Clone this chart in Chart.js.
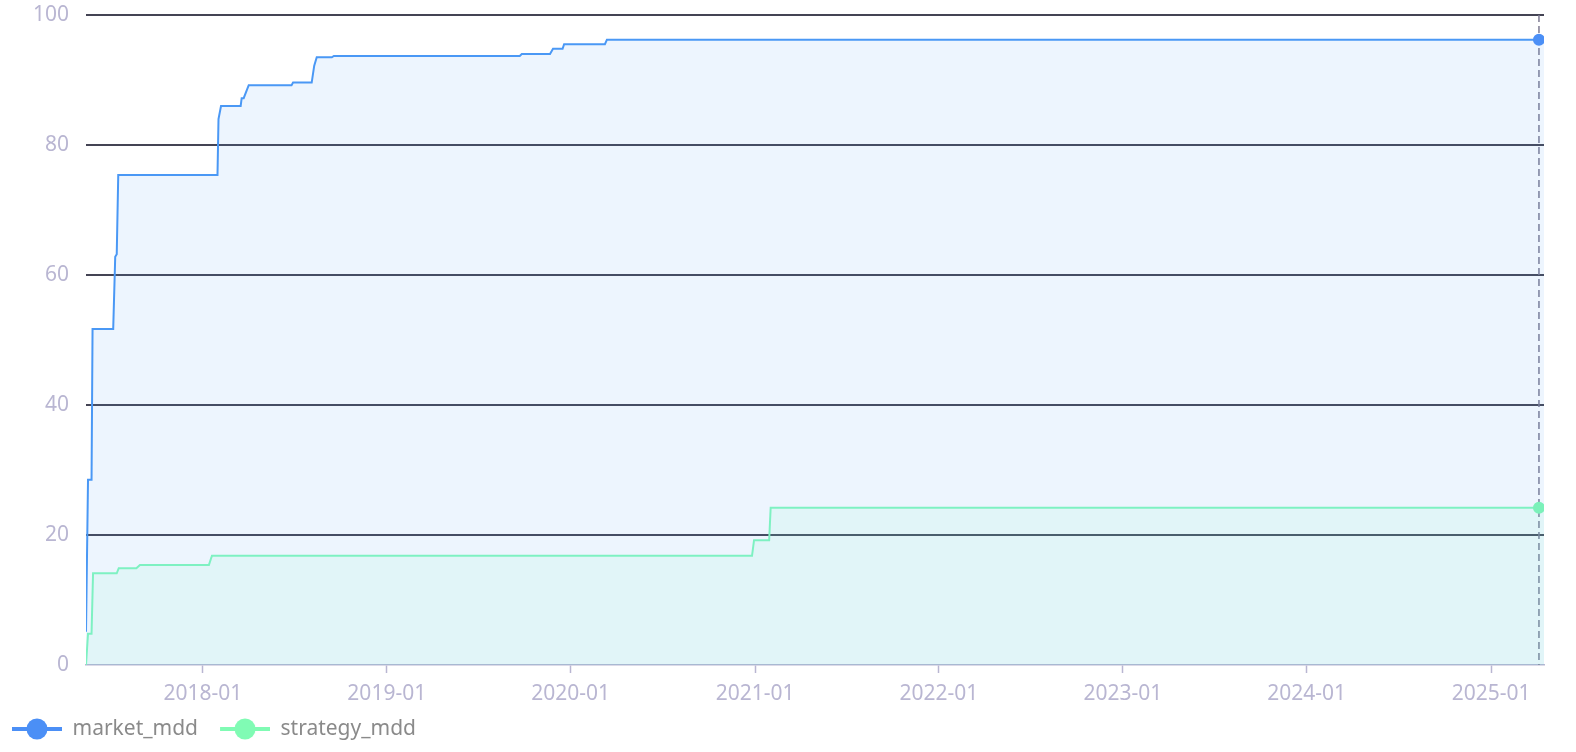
<!DOCTYPE html>
<html>
<head>
<meta charset="utf-8">
<script src="https://cdn.jsdelivr.net/npm/chart.js@4"></script>
<style>
  html, body { margin: 0; padding: 0; background: #fff; }
  #wrap { width: 1576px; height: 752px; position: relative; }
</style>
</head>
<body>
<div id="wrap"><canvas id="mdd"></canvas></div>
<script>
// values (dates as YYYY-MM-DD, drawdown in %)
const marketDates = ['2017-05-14', '2017-05-18', '2017-05-25', '2017-05-27', '2017-07-07', '2017-07-11',
  '2017-07-14', '2017-07-17', '2018-01-30', '2018-02-01', '2018-02-06', '2018-03-17', '2018-03-19',
  '2018-03-23', '2018-04-02', '2018-06-26', '2018-06-29', '2018-08-05', '2018-08-10', '2018-08-15',
  '2018-09-14', '2018-09-18', '2019-09-22', '2019-09-26', '2019-11-21', '2019-11-27', '2019-12-16',
  '2019-12-19', '2020-03-09', '2020-03-13', '2025-04-06', '2025-04-16'];
const marketValues = [5.1, 28.5, 28.5, 51.7, 51.7, 62.8, 63.2, 75.4, 75.4, 84, 86, 86, 87.2, 87.2, 89.2,
  89.2, 89.6, 89.6, 92.2, 93.5, 93.5, 93.7, 93.7, 94.0, 94.0, 94.8, 94.8, 95.5, 95.5, 96.2, 96.2, 96.2];

const strategyDates = ['2017-05-14', '2017-05-18', '2017-05-25', '2017-05-28', '2017-07-14', '2017-07-18',
  '2017-08-22', '2017-08-29', '2018-01-13', '2018-01-19', '2020-12-26', '2020-12-30', '2021-01-29',
  '2021-02-01', '2025-04-06', '2025-04-16'];
const strategyValues = [0, 4.8, 4.8, 14.1, 14.1, 14.9, 14.9, 15.4, 15.4, 16.8, 16.8, 19.2, 19.2, 24.2, 24.2, 24.2];

const xTickLabels = ['2018-01', '2019-01', '2020-01', '2021-01', '2022-01', '2023-01', '2024-01', '2025-01'];
const yTicks = [0, 20, 40, 60, 80, 100];
const hoverDate = '2025-04-06';

const ts = d => Date.parse(d.length === 7 ? d + '-01' : d);
const hoverTs = ts(hoverDate);
const toPoints = (dates, vals) => dates.map((d, i) => ({ x: ts(d), y: vals[i] }));

const BLUE = '#4a98f5';
const GREEN = '#84fbbd';
const LAVENDER = '#b9b6d2';
const FONT = '"Noto Sans", sans-serif';

// legend marker: line with a dot, 10px blank on the left as item spacing
function legendIcon(color) {
  const c = document.createElement('canvas');
  c.width = 60; c.height = 24;
  const g = c.getContext('2d');
  g.strokeStyle = color; g.lineWidth = 4;
  g.beginPath(); g.moveTo(10, 12); g.lineTo(60, 12); g.stroke();
  g.fillStyle = color;
  g.beginPath(); g.arc(35, 12, 10.5, 0, Math.PI * 2); g.fill();
  return c;
}
const icons = [legendIcon('#4b8ff6'), legendIcon('#80fbb4')];

// dashed vertical marker at the hovered date
const hoverLine = {
  id: 'hoverLine',
  beforeDatasetsDraw(chart) {
    const { ctx, chartArea, scales } = chart;
    const x = scales.x.getPixelForValue(hoverTs);
    ctx.save();
    ctx.strokeStyle = '#7e7b92';
    ctx.lineWidth = 1.5;
    ctx.setLineDash([7, 4]);
    ctx.beginPath();
    ctx.moveTo(x, chartArea.top);
    ctx.lineTo(x, chartArea.bottom);
    ctx.stroke();
    ctx.restore();
  }
};

const hoverRadius = c => (c.raw && c.raw.x === hoverTs ? 6 : 0);

new Chart(document.getElementById('mdd'), {
  type: 'line',
  data: {
    datasets: [{
      label: 'market_mdd',
      data: toPoints(marketDates, marketValues),
      borderColor: BLUE,
      backgroundColor: 'rgba(75,155,245,0.1)',
      borderWidth: 2,
      fill: 'origin',
      tension: 0,
      pointRadius: hoverRadius,
      pointBackgroundColor: '#4b8ff6',
      pointBorderWidth: 0
    }, {
      label: 'strategy_mdd',
      data: toPoints(strategyDates, strategyValues),
      borderColor: GREEN,
      backgroundColor: 'rgba(125,252,188,0.1)',
      borderWidth: 2,
      fill: 'origin',
      tension: 0,
      pointRadius: hoverRadius,
      pointBackgroundColor: '#80fbb4',
      pointBorderWidth: 0
    }]
  },
  options: {
    responsive: true,
    maintainAspectRatio: false,
    animation: false,
    layout: { padding: { left: -10, right: 32, top: 0, bottom: 2.5 } },
    scales: {
      x: {
        type: 'linear',
        min: ts(marketDates[0]),
        max: ts(marketDates[marketDates.length - 1]),
        afterBuildTicks: axis => { axis.ticks = xTickLabels.map(l => ({ value: ts(l) })); },
        afterFit: axis => { axis.height = 41.5; },
        ticks: {
          autoSkip: false,
          maxRotation: 0,
          padding: 8,
          color: LAVENDER,
          font: { family: FONT, size: 21 },
          callback: v => xTickLabels.find(l => ts(l) === v) || ''
        },
        grid: { drawOnChartArea: false, drawTicks: true, tickLength: 8, tickColor: LAVENDER, tickWidth: 1.5 },
        border: { color: LAVENDER, width: 1.5 }
      },
      y: {
        min: 0,
        max: 100,
        afterBuildTicks: axis => { axis.ticks = yTicks.map(v => ({ value: v })); },
        afterFit: axis => { axis.width = 96; axis.paddingTop = 15; axis.paddingBottom = 0; },
        ticks: { color: LAVENDER, padding: 17, font: { family: FONT, size: 21 } },
        grid: {
          drawTicks: false,
          lineWidth: 2,
          color: c => (c.tick && c.tick.value === 0 ? 'rgba(0,0,0,0)' : '#444454')
        },
        border: { display: false }
      }
    },
    plugins: {
      tooltip: { enabled: false },
      legend: {
        position: 'bottom',
        align: 'start',
        labels: {
          usePointStyle: true,
          pointStyleWidth: 60,
          padding: 12,
          color: '#8a8a8a',
          font: { family: FONT, size: 21 },
          generateLabels: chart => Chart.defaults.plugins.legend.labels.generateLabels(chart)
            .map((l, i) => ({ ...l, pointStyle: icons[i] }))
        }
      }
    }
  },
  plugins: [hoverLine]
});
</script>
</body>
</html>
